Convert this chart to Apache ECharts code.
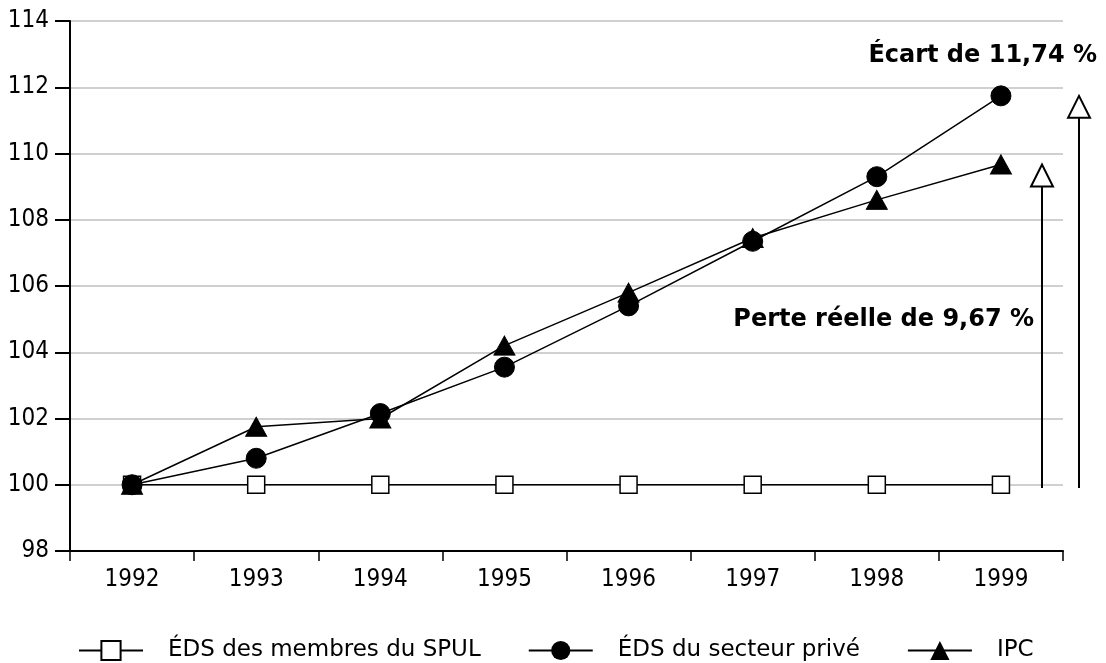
<!DOCTYPE html>
<html><head><meta charset="utf-8">
<script src="https://cdn.jsdelivr.net/npm/echarts@6/dist/echarts.min.js"></script>
<style>html,body{margin:0;padding:0;background:#fff}#c{width:1106px;height:663px}</style>
</head><body><div id="c"></div>
<script>
const years = ['1992','1993','1994','1995','1996','1997','1998','1999'];
const spul = [100,100,100,100,100,100,100,100];
const prive = [100,100.8,102.15,103.55,105.4,107.35,109.3,111.74];
const ipc = [100,101.75,102.0,104.2,105.8,107.45,108.6,109.67];
const seriesNames = ['ÉDS des membres du SPUL','ÉDS du secteur privé','IPC'];
const ecartLabel = 'Écart de 11,74 %';
const perteLabel = 'Perte réelle de 9,67 %';

const FONT = '"DejaVu Sans Condensed","Liberation Sans Narrow","Liberation Sans",Arial,sans-serif';
const chart = echarts.init(document.getElementById('c'));
const lineStyle = {color:'#000', width:1.5};
chart.setOption({
  animation:false,
  backgroundColor:'#fff',
  textStyle:{fontFamily:FONT},
  grid:{left:70, right:43, top:21, bottom:112},
  legend:{
    top:634, left:73, itemWidth:64, itemHeight:24, itemGap:47,
    textStyle:{fontFamily:'"DejaVu Sans",sans-serif', fontSize:23, color:'#000', padding:[0,0,0,20]},
    data:seriesNames
  },
  xAxis:{
    type:'category', data:years, boundaryGap:true,
    axisLine:{lineStyle:{color:'#000', width:2}},
    axisTick:{show:true, length:10, lineStyle:{color:'#000', width:1.5}},
    axisLabel:{color:'#000', fontSize:24, margin:17, fontFamily:FONT}
  },
  yAxis:{
    type:'value', min:98, max:114, interval:2,
    axisLine:{show:true, lineStyle:{color:'#000', width:2}},
    axisTick:{show:true, length:15, lineStyle:{color:'#000', width:2}},
    axisLabel:{color:'#000', fontSize:24, margin:21, fontFamily:FONT},
    splitLine:{lineStyle:{color:'#d0d0d0', width:2}}
  },
  series:[
    {name:seriesNames[0], type:'line', data:spul, symbol:'rect', symbolSize:17,
     itemStyle:{color:'#fff', borderColor:'#000', borderWidth:1.5}, lineStyle:lineStyle, z:2},
    {name:seriesNames[1], type:'line', data:prive, symbol:'circle', symbolSize:20,
     itemStyle:{color:'#000', borderColor:'#000'}, lineStyle:lineStyle, z:3},
    {name:seriesNames[2], type:'line', data:ipc, symbol:'triangle', symbolSize:[21,19],
     itemStyle:{color:'#000', borderColor:'#000'}, lineStyle:lineStyle, z:4}
  ]
});

function arrow(x, tipVal, baseVal){
  const tipY = chart.convertToPixel({yAxisIndex:0}, tipVal);
  const baseY = chart.convertToPixel({yAxisIndex:0}, baseVal);
  return [
    {type:'line', shape:{x1:x, y1:baseY, x2:x, y2:tipY+22}, style:{stroke:'#000', lineWidth:2}, z:10},
    {type:'polygon', shape:{points:[[x-11,tipY+22],[x,tipY],[x+11,tipY+22]]}, style:{fill:'#fff', stroke:'#000', lineWidth:2}, z:10}
  ];
}
const W = chart.getWidth();
const gridRight = W - 43;
const BOLD = 'bold 24px "DejaVu Sans","Verdana",sans-serif';
const els = [].concat(
  arrow(gridRight-21, ipc[7], 99.9),
  arrow(gridRight+16, prive[7], 99.9),
  [
    {type:'text', x:W-9, y:56, style:{text:ecartLabel, font:BOLD, fill:'#000', align:'right', verticalAlign:'middle'}, z:10},
    {type:'text', x:1034, y:320, style:{text:perteLabel, font:BOLD, fill:'#000', align:'right', verticalAlign:'middle'}, z:10}
  ]
);
chart.setOption({graphic:{elements:els}});
</script></body></html>
